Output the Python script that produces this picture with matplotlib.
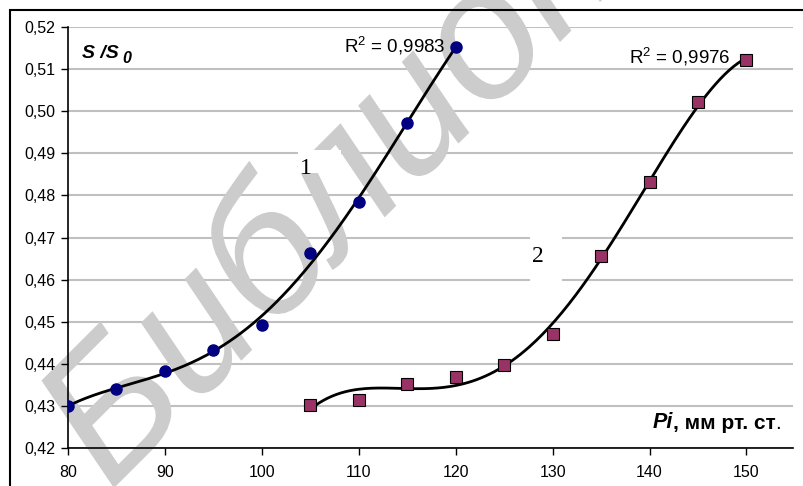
import numpy as np
import matplotlib
matplotlib.use("Agg")
import matplotlib.pyplot as plt
from matplotlib.patches import Rectangle, PathPatch
from matplotlib.textpath import TextPath
from matplotlib.font_manager import FontProperties
from matplotlib.transforms import Affine2D
from matplotlib.ticker import FuncFormatter

plt.rcParams['font.family'] = ['Liberation Sans', 'DejaVu Sans']
plt.rcParams['mathtext.fontset'] = 'custom'
plt.rcParams['mathtext.rm'] = 'Liberation Sans'

# curve 1 (circles)
p1 = [80, 85, 90, 95, 100, 105, 110, 115, 120]
s1 = [0.4300, 0.4340, 0.4383, 0.4433, 0.4491, 0.4663, 0.4784, 0.4972, 0.5153]
# curve 2 (squares)
p2 = [105, 110, 115, 120, 125, 130, 135, 140, 145, 150]
s2 = [0.4302, 0.4313, 0.4351, 0.4368, 0.4397, 0.4471, 0.4656, 0.4833, 0.5021, 0.5122]
r2_labels = ["R$^{2}$ = 0,9983", "R$^{2}$ = 0,9976"]
x_ticks = [80, 90, 100, 110, 120, 130, 140, 150]
y_ticks = [0.42, 0.43, 0.44, 0.45, 0.46, 0.47, 0.48, 0.49, 0.50, 0.51, 0.52]

W, H = 804, 486
fig = plt.figure(figsize=(W / 100, H / 100), dpi=100)
ax = fig.add_axes([68 / W, 1 - 448 / H, (793 - 68) / W, (448 - 27) / H])

# outer chart border (cut at right and bottom)
fig.patches.append(Rectangle((10 / W, -0.1), 1.0, 1 - 10 / H + 0.1, transform=fig.transFigure,
                             fill=False, ec='black', lw=1.5))

# gridlines
for yv in y_ticks:
    ax.axhline(yv, color='#c0c0c0', lw=1.5, zorder=0.5)

# watermark (pixel coordinates)
wm = TextPath((0, 0), "Библиотека", size=185,
              prop=FontProperties(family='Liberation Sans', style='italic'))
wm_tr = Affine2D().rotate_deg(45).translate(110, -6)
ax.add_patch(PathPatch(wm_tr.transform_path(wm), fc='#cccccc', ec='none',
                       transform=None, clip_on=False, zorder=1))

# polynomial trendlines
c1 = np.polyfit(p1, s1, 4)
xx1 = np.linspace(p1[0], p1[-1], 200)
ax.plot(xx1, np.polyval(c1, xx1), color='black', lw=2, zorder=3)
c2 = np.polyfit(p2, s2, 4)
xx2 = np.linspace(p2[0], p2[-1], 200)
ax.plot(xx2, np.polyval(c2, xx2), color='black', lw=2, zorder=3)

ax.plot(p1, s1, 'o', color='#000080', ms=8, mec='#000080', zorder=4)
ax.plot(p2, s2, 's', color='#993366', ms=8, mec='black', mew=0.8, zorder=4)

ax.set_xlim(80, 154.8)
ax.set_ylim(0.42, 0.52)
ax.set_xticks(x_ticks)
ax.set_yticks(y_ticks)
ax.yaxis.set_major_formatter(FuncFormatter(lambda v, p: f"{v:.2f}".replace('.', ',')))
ax.tick_params(labelsize=11.5, length=5, width=1, color='black')
ax.tick_params(axis='x', pad=7)
ax.tick_params(axis='y', pad=4)
for s in ['top', 'right']:
    ax.spines[s].set_visible(False)
for s in ['left', 'bottom']:
    ax.spines[s].set_linewidth(1.2)

# R^2 labels
ax.text(118.9, 0.5157, r2_labels[0], ha='right', va='center', fontsize=13.5, zorder=5)
ax.text(148.3, 0.5129, r2_labels[1], ha='right', va='center', fontsize=13.5, zorder=5)

# white boxes behind curve numbers and the numbers
ax.add_patch(Rectangle((103.7, 0.4853), 4.5, 0.0055, fc='white', ec='none', zorder=2))
ax.add_patch(Rectangle((127.7, 0.4595), 3.3, 0.0118, fc='white', ec='none', zorder=2))
ax.text(104.5, 0.4865, "1", family='Liberation Serif', fontsize=17, ha='center', va='center', zorder=5)
ax.text(128.5, 0.4656, "2", family='Liberation Serif', fontsize=17, ha='center', va='center', zorder=5)

# axis captions
t = ax.text(81.4, 0.5126, "S /S", fontsize=14, weight='bold', style='italic', ha='left', va='baseline', zorder=5)
ax.annotate("0", xy=(1, 0), xycoords=t, xytext=(3, -3), textcoords='offset points',
            fontsize=11.5, weight='bold', style='italic', ha='left', va='bottom', zorder=5)
t = ax.text(140.3, 0.4247, "Pi", fontsize=15.5, weight='bold', style='italic', ha='left', va='baseline', zorder=5)
t = ax.annotate(", мм рт. ст", xy=(1, 0), xycoords=t, xytext=(0, 0), textcoords='offset points',
                fontsize=15, weight='bold', ha='left', va='bottom', zorder=5)
ax.annotate(".", xy=(1, 0), xycoords=t, xytext=(0, 0), textcoords='offset points',
            fontsize=15, ha='left', va='bottom', zorder=5)

fig.savefig("out.png", dpi=100)
